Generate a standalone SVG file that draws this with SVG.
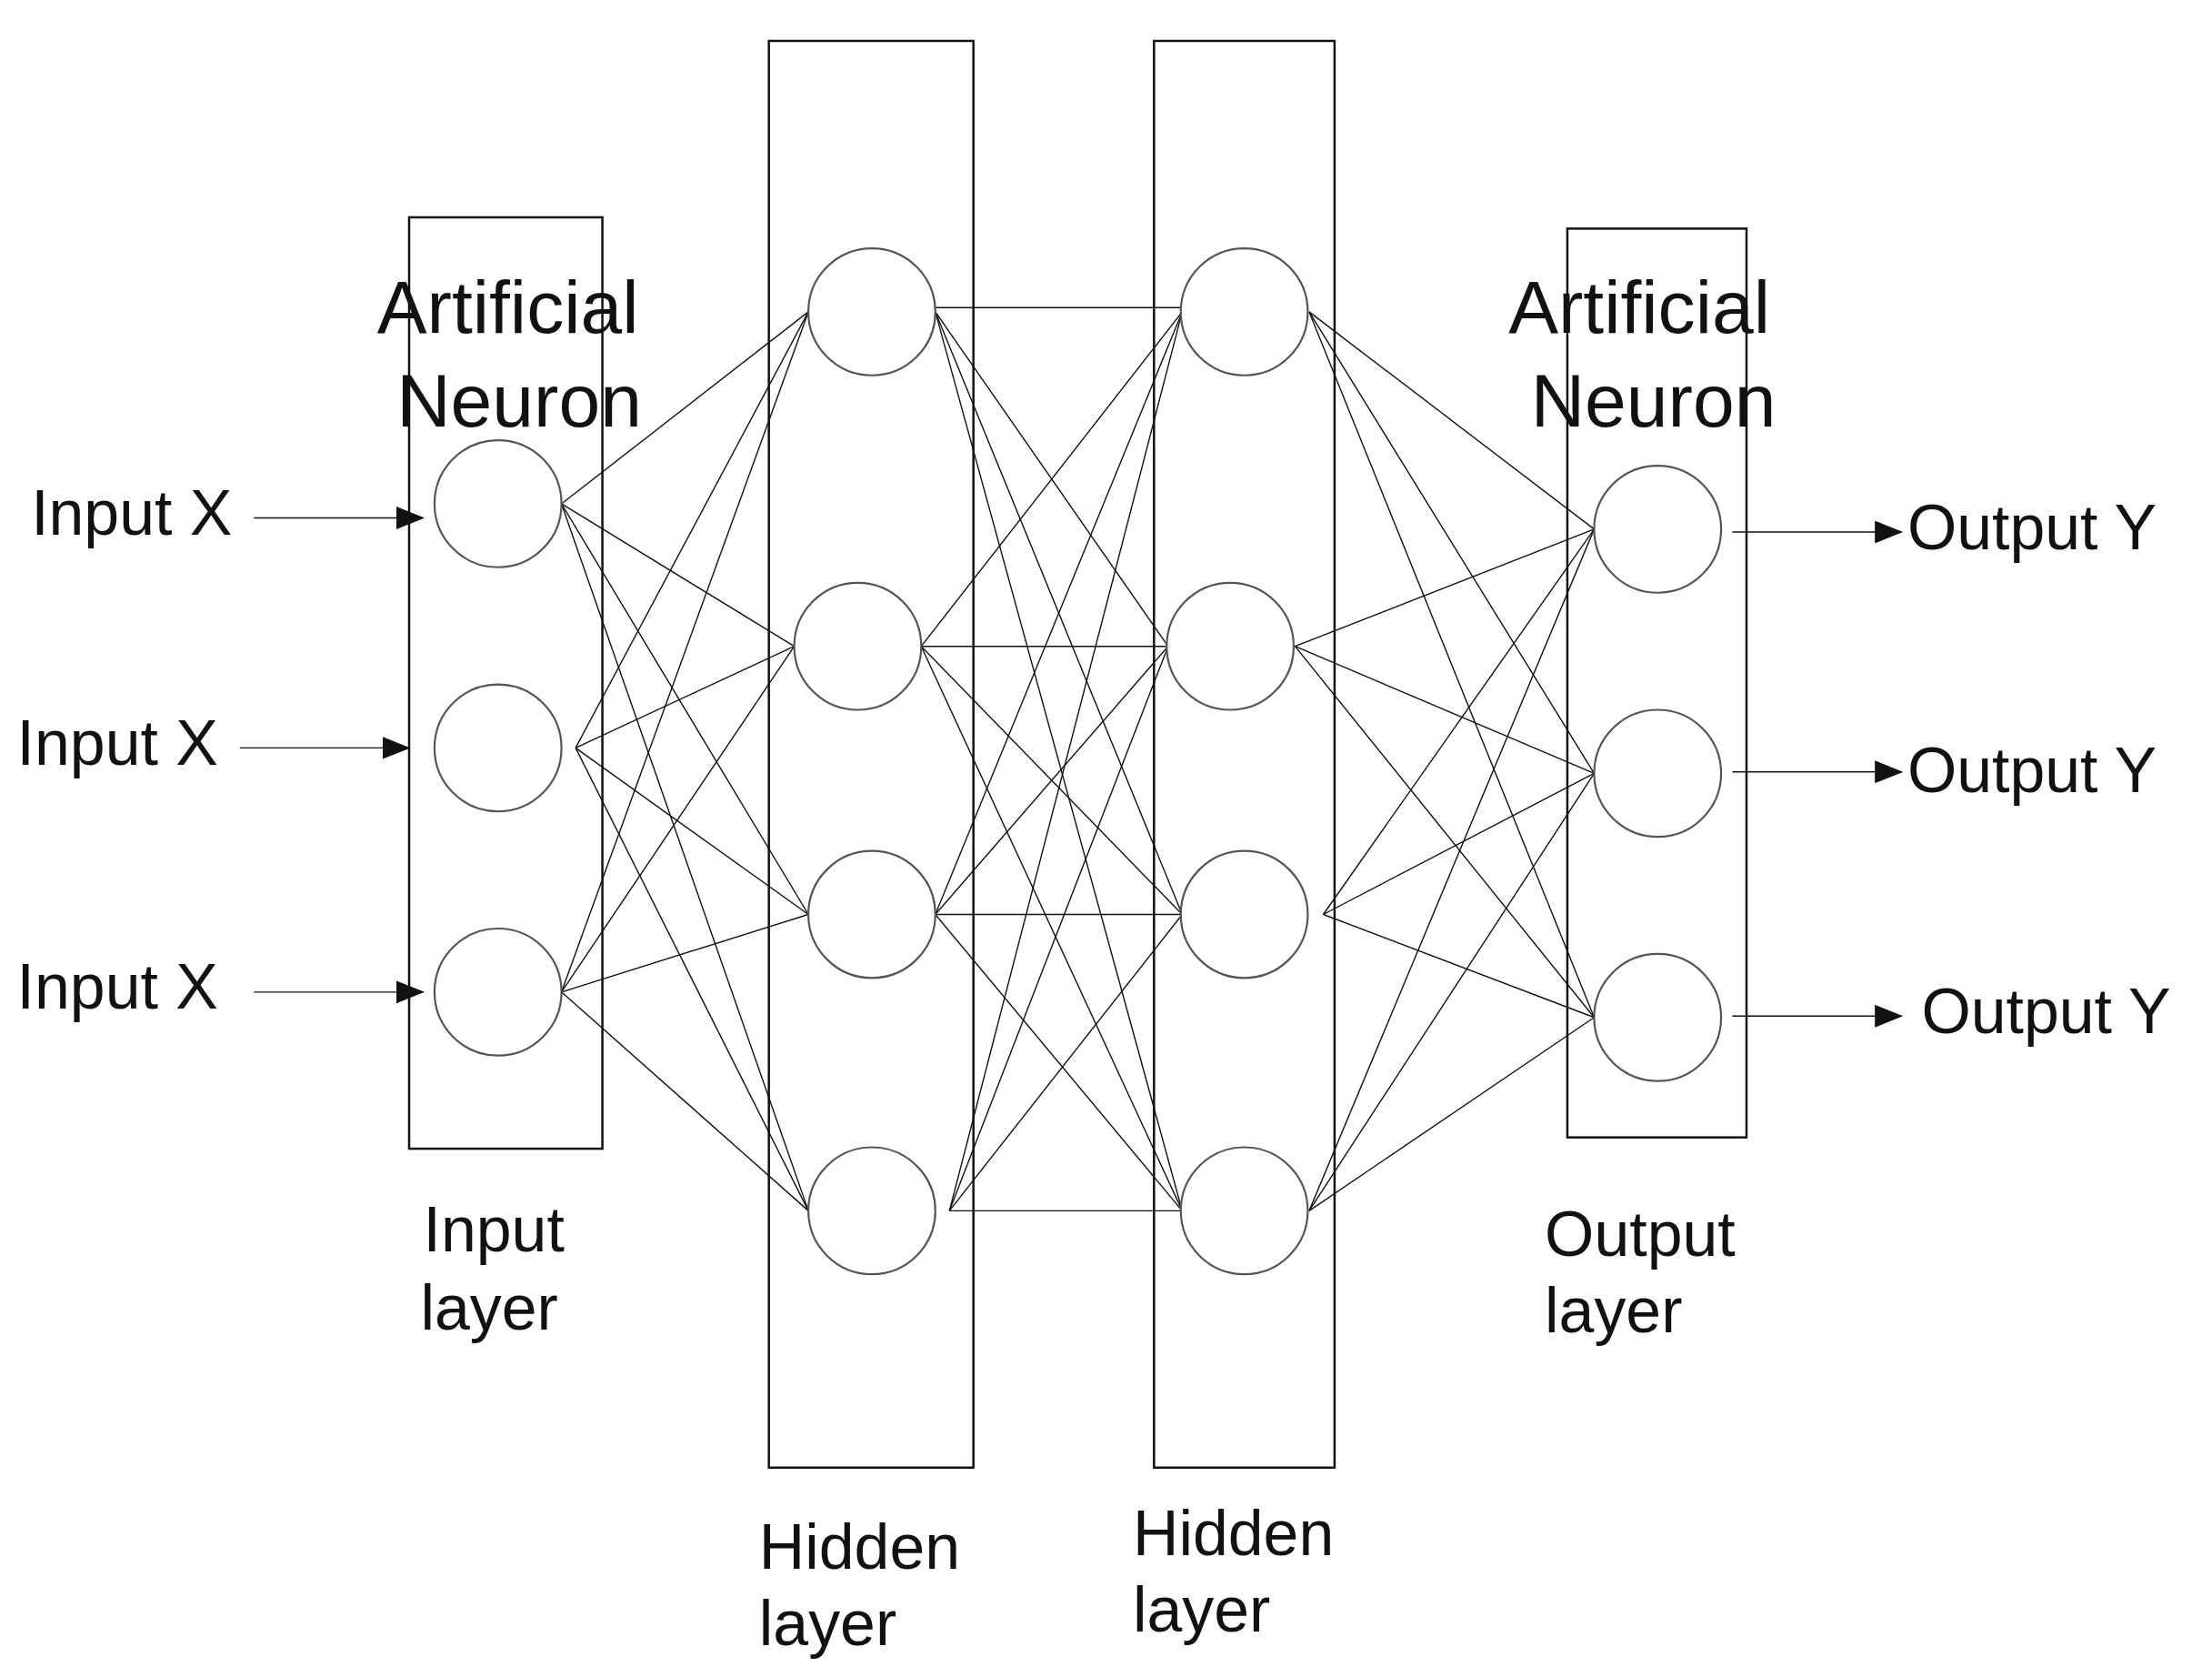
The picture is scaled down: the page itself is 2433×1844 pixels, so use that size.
<svg xmlns="http://www.w3.org/2000/svg" width="2433" height="1844" viewBox="0 0 2433 1844">
<style>
.box{fill:none;stroke:#111;stroke-width:1.6}
.n{fill:#fff;stroke:#555;stroke-width:1.4}
.c line{stroke:#111;stroke-width:0.9}
.a{stroke:#111;stroke-width:1.3;marker-end:url(#ar)}
text{font-family:"Liberation Sans",Arial,sans-serif;fill:#111}
.big{font-size:53px}
.lab{font-size:45px}
</style>
<defs><marker id="ar" markerWidth="20" markerHeight="16" refX="19" refY="8" orient="auto" markerUnits="userSpaceOnUse"><path d="M0,0L20,8L0,16z" fill="#111"/></marker></defs>
<rect width="2433" height="1844" fill="#fff"/>
<g transform="scale(1.5517)">
<g id="boxes">
<rect class="box" x="290" y="154" width="137" height="660"/>
<rect class="box" x="545" y="29" width="145" height="1011"/>
<rect class="box" x="818" y="29" width="128" height="1011"/>
<rect class="box" x="1111" y="162" width="127" height="644"/>
</g>
<g id="connectors" class="c">
<line x1="398" y1="357" x2="573" y2="221"/><line x1="398" y1="357" x2="563" y2="458"/><line x1="398" y1="357" x2="573" y2="648"/><line x1="398" y1="357" x2="573" y2="858"/>
<line x1="408" y1="530" x2="573" y2="221"/><line x1="408" y1="530" x2="563" y2="458"/><line x1="408" y1="530" x2="573" y2="648"/><line x1="408" y1="530" x2="573" y2="858"/>
<line x1="398" y1="703" x2="573" y2="221"/><line x1="398" y1="703" x2="563" y2="458"/><line x1="398" y1="703" x2="573" y2="648"/><line x1="398" y1="703" x2="573" y2="858"/>
<line x1="663" y1="218" x2="838" y2="218"/><line x1="663" y1="221" x2="828" y2="458"/><line x1="663" y1="221" x2="838" y2="648"/><line x1="663" y1="221" x2="838" y2="858"/>
<line x1="653" y1="458" x2="838" y2="221"/><line x1="653" y1="458" x2="828" y2="458"/><line x1="653" y1="458" x2="838" y2="648"/><line x1="653" y1="458" x2="838" y2="858"/>
<line x1="663" y1="648" x2="838" y2="221"/><line x1="663" y1="648" x2="828" y2="458"/><line x1="663" y1="648" x2="838" y2="648"/><line x1="663" y1="648" x2="838" y2="858"/>
<line x1="673" y1="858" x2="838" y2="221"/><line x1="673" y1="858" x2="828" y2="458"/><line x1="673" y1="858" x2="838" y2="648"/><line x1="673" y1="858" x2="838" y2="858"/>
<line x1="928" y1="221" x2="1130" y2="375"/><line x1="928" y1="221" x2="1130" y2="548"/><line x1="928" y1="221" x2="1130" y2="721"/>
<line x1="918" y1="458" x2="1130" y2="375"/><line x1="918" y1="458" x2="1130" y2="548"/><line x1="918" y1="458" x2="1130" y2="721"/>
<line x1="938" y1="648" x2="1130" y2="375"/><line x1="938" y1="648" x2="1130" y2="548"/><line x1="938" y1="648" x2="1130" y2="721"/>
<line x1="928" y1="858" x2="1130" y2="375"/><line x1="928" y1="858" x2="1130" y2="548"/><line x1="928" y1="858" x2="1130" y2="721"/>
<line class="a" x1="180" y1="367" x2="300" y2="367"/>
<line class="a" x1="170" y1="530" x2="290" y2="530"/>
<line class="a" x1="180" y1="703" x2="300" y2="703"/>
<line class="a" x1="1228" y1="377" x2="1348" y2="377"/>
<line class="a" x1="1228" y1="547" x2="1348" y2="547"/>
<line class="a" x1="1228" y1="720" x2="1348" y2="720"/>
</g>
<g id="input-neurons">
<circle class="n" cx="353" cy="357" r="45"/><circle class="n" cx="353" cy="530" r="45"/><circle class="n" cx="353" cy="703" r="45"/>
</g>
<g id="hidden1-neurons">
<circle class="n" cx="618" cy="221" r="45"/><circle class="n" cx="608" cy="458" r="45"/><circle class="n" cx="618" cy="648" r="45"/><circle class="n" cx="618" cy="858" r="45"/>
</g>
<g id="hidden2-neurons">
<circle class="n" cx="882" cy="221" r="45"/><circle class="n" cx="872" cy="458" r="45"/><circle class="n" cx="882" cy="648" r="45"/><circle class="n" cx="882" cy="858" r="45"/>
</g>
<g id="output-neurons">
<circle class="n" cx="1175" cy="375" r="45"/><circle class="n" cx="1175" cy="548" r="45"/><circle class="n" cx="1175" cy="721" r="45"/>
</g>
<g id="labels">
<text class="big" x="360" y="236" text-anchor="middle">Artificial</text>
<text class="big" x="368" y="302" text-anchor="middle">Neuron</text>
<text class="big" x="1162" y="236" text-anchor="middle">Artificial</text>
<text class="big" x="1172" y="302" text-anchor="middle">Neuron</text>
<text class="lab" x="22" y="379">Input X</text>
<text class="lab" x="12" y="542">Input X</text>
<text class="lab" x="12" y="715">Input X</text>
<text class="lab" x="1352" y="389">Output Y</text>
<text class="lab" x="1352" y="561">Output Y</text>
<text class="lab" x="1362" y="732">Output Y</text>
<text class="lab" x="300" y="887">Input</text><text class="lab" x="298" y="942">layer</text>
<text class="lab" x="538" y="1112">Hidden</text><text class="lab" x="538" y="1166">layer</text>
<text class="lab" x="803" y="1102">Hidden</text><text class="lab" x="803" y="1156">layer</text>
<text class="lab" x="1095" y="890">Output</text><text class="lab" x="1095" y="944">layer</text>
</g>
</g>
</svg>
